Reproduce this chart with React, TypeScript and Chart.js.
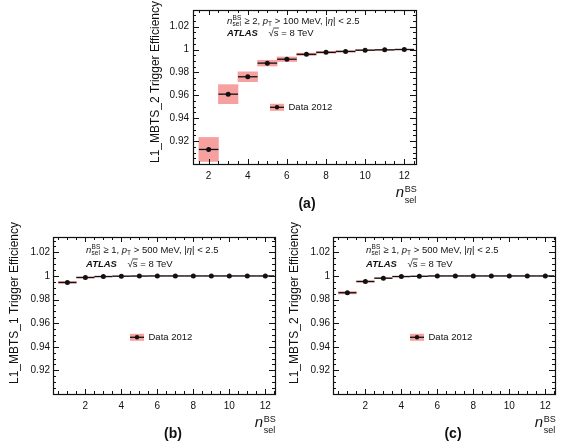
import React, { useEffect, useRef } from 'react';
import { Chart, registerables } from 'chart.js';

Chart.register(...registerables);

const FONT = '"Liberation Sans", Arial, Helvetica, sans-serif';
const BOX_COLOR = '#f6a0a0';
const INK = '#111111';

// Panel (a): L1_MBTS_2, n_sel >= 2, pT > 100 MeV
const binsA = [2, 3, 4, 5, 6, 7, 8, 9, 10, 11, 12];
const effA = [0.9127, 0.961, 0.9762, 0.9881, 0.9915, 0.9958, 0.9975, 0.9983, 0.9994, 0.9997, 1.0];
const errA = [0.0105, 0.0083, 0.0043, 0.0025, 0.002, 0.001, 0.0008, 0.0006, 0.0005, 0.0004, 0.0003];

// Panels (b) and (c): n_sel >= 1, pT > 500 MeV
const binsBC = [1, 2, 3, 4, 5, 6, 7, 8, 9, 10, 11, 12];
const effB = [0.9945, 0.9987, 0.9995, 0.9998, 0.9999, 1.0, 1.0, 1.0, 1.0, 1.0, 1.0, 1.0];
const errB = [0.0008, 0.0005, 0.0003, 0.0002, 0.0002, 0.0002, 0.0002, 0.0002, 0.0002, 0.0002, 0.0002, 0.0002];
const effC = [0.9858, 0.9953, 0.9981, 0.9995, 0.9997, 1.0, 1.0, 1.0, 1.0, 1.0, 1.0, 1.0];
const errC = [0.001, 0.0006, 0.0004, 0.0003, 0.0002, 0.0002, 0.0002, 0.0002, 0.0002, 0.0002, 0.0002, 0.0002];

const yTickValues = [0.92, 0.94, 0.96, 0.98, 1, 1.02];
const xTickValues = [2, 4, 6, 8, 10, 12];
const legendLabel = 'Data 2012';

type PanelSpec = {
  key: string;
  left: number; top: number; width: number; height: number;
  padTop: number; padRight: number;
  yAxisWidth: number; xAxisHeight: number; yLabelPad: number;
  xMin: number; xMax: number; yMin: number; yMax: number;
  bins: number[]; eff: number[]; err: number[];
  trigger: string; cutN: string; cutPt: string; letter: string;
  textX: number; line1Y: number; line2Y: number;
  legendX: number; legendY: number;
  titleX: number; titleY: number;
  letterX: number; letterY: number;
};

const panels: PanelSpec[] = [
  {
    key: 'a', left: 140, top: 0, width: 280, height: 215,
    padTop: 5, padRight: 4, yAxisWidth: 53, xAxisHeight: 51, yLabelPad: 4,
    xMin: 1.2, xMax: 12.6, yMin: 0.9, yMax: 1.0345,
    bins: binsA, eff: effA, err: errA,
    trigger: 'L1_MBTS_2', cutN: '2', cutPt: '100', letter: '(a)',
    textX: 87, line1Y: 23.5, line2Y: 36,
    legendX: 130, legendY: 107.3,
    titleX: 16, titleY: 82,
    letterX: 167, letterY: 208,
  },
  {
    key: 'b', left: 0, top: 220, width: 280, height: 224,
    padTop: 17, padRight: 5, yAxisWidth: 53, xAxisHeight: 50, yLabelPad: 3,
    xMin: 0.2, xMax: 12.54, yMin: 0.9, yMax: 1.033,
    bins: binsBC, eff: effB, err: errB,
    trigger: 'L1_MBTS_1', cutN: '1', cutPt: '500', letter: '(b)',
    textX: 86, line1Y: 32.8, line2Y: 47,
    legendX: 130, legendY: 117.3,
    titleX: 15, titleY: 83,
    letterX: 173, letterY: 218,
  },
  {
    key: 'c', left: 280, top: 220, width: 289, height: 224,
    padTop: 17, padRight: 14, yAxisWidth: 53, xAxisHeight: 50, yLabelPad: 3,
    xMin: 0.2, xMax: 12.54, yMin: 0.9, yMax: 1.033,
    bins: binsBC, eff: effC, err: errC,
    trigger: 'L1_MBTS_2', cutN: '1', cutPt: '500', letter: '(c)',
    textX: 86, line1Y: 32.8, line2Y: 47,
    legendX: 130, legendY: 117.3,
    titleX: 15, titleY: 83,
    letterX: 173, letterY: 218,
  },
];

function put(ctx: CanvasRenderingContext2D, t: string, x: number, y: number, size: number, style = ''): number {
  ctx.font = `${style}${size}px ${FONT}`;
  ctx.fillText(t, x, y);
  return ctx.measureText(t).width;
}

function drawCuts(ctx: CanvasRenderingContext2D, p: PanelSpec) {
  const s = 9.5;
  const sm = 6.5;
  const y = p.line1Y;
  let cx = p.textX;
  ctx.textAlign = 'left';
  ctx.textBaseline = 'alphabetic';
  ctx.fillStyle = INK;
  cx += put(ctx, 'n', cx, y, s, 'italic ');
  const wb = put(ctx, 'BS', cx + 0.3, y - 4, sm);
  const ws = put(ctx, 'sel', cx + 0.3, y + 2.2, sm);
  cx += Math.max(wb, ws) + 0.8;
  cx += put(ctx, ` \u2265 ${p.cutN}, `, cx, y, s);
  cx += put(ctx, 'p', cx, y, s, 'italic ');
  cx += put(ctx, 'T', cx, y + 2.5, sm);
  cx += put(ctx, ` > ${p.cutPt} MeV, |`, cx, y, s);
  cx += put(ctx, '\u03b7', cx, y, s, 'italic ');
  put(ctx, '| < 2.5', cx, y, s);

  // ATLAS label and centre-of-mass energy
  const y2 = p.line2Y;
  put(ctx, 'ATLAS', p.textX, y2, 9.5, 'italic bold ');
  let sx = p.textX + 41.6;
  sx += put(ctx, '\u221a', sx, y2, 9.5);
  const wsq = put(ctx, 's', sx, y2, 9.5);
  ctx.strokeStyle = INK;
  ctx.lineWidth = 0.8;
  ctx.beginPath();
  ctx.moveTo(sx - 0.5, y2 - 8);
  ctx.lineTo(sx + wsq + 0.3, y2 - 8);
  ctx.stroke();
  sx += wsq;
  put(ctx, ' = 8 TeV', sx, y2, 9.5);
}

const atlasFrame = {
  id: 'atlasFrame',
  afterDatasetDraw(chart: any, args: any, opts: any) {
    if (args.index !== 1) return;
    const p: PanelSpec = opts.panel;
    const { ctx, chartArea: a } = chart;
    const xs = chart.scales.x;
    const ys = chart.scales.y;
    ctx.save();
    ctx.beginPath();
    ctx.rect(a.left, a.top, a.right - a.left, a.bottom - a.top);
    ctx.clip();
    ctx.strokeStyle = INK;
    ctx.lineWidth = 1.3;
    p.bins.forEach((b, i) => {
      const y = ys.getPixelForValue(p.eff[i]);
      ctx.beginPath();
      ctx.moveTo(xs.getPixelForValue(b - 0.5), y);
      ctx.lineTo(xs.getPixelForValue(b + 0.5), y);
      ctx.stroke();
    });
    ctx.restore();
  },
  afterDraw(chart: any, _args: any, opts: any) {
    const p: PanelSpec = opts.panel;
    const { ctx, chartArea: a } = chart;
    const xs = chart.scales.x;
    const ys = chart.scales.y;
    ctx.save();

    // frame
    ctx.strokeStyle = INK;
    ctx.lineWidth = 1.2;
    ctx.strokeRect(Math.round(a.left) + 0.5, Math.round(a.top) + 0.5,
      Math.round(a.right - a.left), Math.round(a.bottom - a.top));

    // inward ticks on all four sides
    const major = 5;
    const minor = 3;
    ctx.lineWidth = 1;
    ctx.beginPath();
    for (let v = Math.ceil(p.xMin * 2) / 2; v <= p.xMax + 1e-9; v += 0.5) {
      const isMajor = xTickValues.includes(Math.round(v * 100) / 100);
      const len = isMajor ? major : minor;
      const x = Math.round(xs.getPixelForValue(v)) + 0.5;
      ctx.moveTo(x, a.bottom);
      ctx.lineTo(x, a.bottom - len);
      ctx.moveTo(x, a.top);
      ctx.lineTo(x, a.top + len);
    }
    for (let k = Math.ceil(p.yMin / 0.005); k * 0.005 <= p.yMax + 1e-9; k++) {
      const v = k * 0.005;
      const isMajor = k % 4 === 0;
      const len = isMajor ? major + 1 : minor;
      const y = Math.round(ys.getPixelForValue(v)) + 0.5;
      ctx.moveTo(a.left, y);
      ctx.lineTo(a.left + len, y);
      ctx.moveTo(a.right, y);
      ctx.lineTo(a.right - len, y);
    }
    ctx.stroke();

    // selection text and ATLAS label
    drawCuts(ctx, p);

    // legend entry
    const lx = p.legendX;
    const ly = p.legendY;
    ctx.fillStyle = BOX_COLOR;
    ctx.fillRect(lx, ly - 3.5, 14, 7);
    ctx.strokeStyle = INK;
    ctx.lineWidth = 1.3;
    ctx.beginPath();
    ctx.moveTo(lx, ly);
    ctx.lineTo(lx + 14, ly);
    ctx.stroke();
    ctx.fillStyle = INK;
    ctx.beginPath();
    ctx.arc(lx + 7, ly, 2.2, 0, Math.PI * 2);
    ctx.fill();
    ctx.textBaseline = 'middle';
    ctx.textAlign = 'left';
    put(ctx, legendLabel, lx + 18.5, ly + 0.5, 9.5);

    // y-axis title
    ctx.save();
    ctx.translate(p.titleX, p.titleY);
    ctx.rotate(-Math.PI / 2);
    ctx.textAlign = 'center';
    ctx.textBaseline = 'middle';
    put(ctx, `${p.trigger} Trigger Efficiency`, 0, 0, 12);
    ctx.restore();

    // x-axis title n_sel^BS, right-aligned to the frame
    ctx.textAlign = 'left';
    ctx.textBaseline = 'alphabetic';
    ctx.font = `italic 15px ${FONT}`;
    const wn = ctx.measureText('n').width;
    ctx.font = `9px ${FONT}`;
    const wsup = Math.max(ctx.measureText('BS').width, ctx.measureText('sel').width);
    const right = a.right + 0.7;
    const nx = right - wsup - wn - 0.5;
    put(ctx, 'n', nx, a.bottom + 33, 15, 'italic ');
    put(ctx, 'BS', nx + wn + 0.5, a.bottom + 27.5, 9);
    put(ctx, 'sel', nx + wn + 0.5, a.bottom + 39, 9);

    // panel letter
    ctx.textAlign = 'center';
    put(ctx, p.letter, p.letterX, p.letterY, 14, 'bold ');

    ctx.restore();
  },
};

function Panel({ p }: { p: PanelSpec }) {
  const ref = useRef<HTMLCanvasElement>(null);

  useEffect(() => {
    const canvas = ref.current;
    if (!canvas) return;
    const points = p.bins.map((b, i) => ({ x: b, y: p.eff[i] }));
    const boxes = p.bins.map((b, i) => ({ x: b, y: [p.eff[i] - p.err[i], p.eff[i] + p.err[i]] }));
    const chart = new Chart(canvas, {
      type: 'bar',
      data: {
        datasets: [
          {
            type: 'scatter',
            data: points,
            pointRadius: 2.5,
            pointBackgroundColor: INK,
            pointBorderWidth: 0,
            showLine: false,
          } as any,
          {
            type: 'bar',
            data: boxes as any,
            backgroundColor: BOX_COLOR,
            borderWidth: 0,
            barPercentage: 1,
            categoryPercentage: 1,
          } as any,
        ],
      },
      options: {
        responsive: false,
        animation: false,
        events: [],
        layout: { padding: { left: 0, top: p.padTop, right: p.padRight, bottom: 0 } },
        plugins: {
          legend: { display: false },
          tooltip: { enabled: false },
          atlasFrame: { panel: p },
        } as any,
        scales: {
          x: {
            type: 'linear',
            min: p.xMin,
            max: p.xMax,
            offset: false,
            grid: { display: false, drawTicks: false, tickLength: 0 },
            border: { display: false },
            afterBuildTicks: (s: any) => { s.ticks = xTickValues.map((v) => ({ value: v })); },
            afterFit: (s: any) => { s.height = p.xAxisHeight; },
            ticks: {
              padding: 6,
              maxRotation: 0,
              autoSkip: false,
              color: INK,
              font: { family: FONT, size: 10 },
              callback: (v: any) => String(v),
            },
          },
          y: {
            type: 'linear',
            min: p.yMin,
            max: p.yMax,
            grid: { display: false, drawTicks: false, tickLength: 0 },
            border: { display: false },
            afterBuildTicks: (s: any) => { s.ticks = yTickValues.map((v) => ({ value: v })); },
            afterFit: (s: any) => { s.width = p.yAxisWidth; },
            ticks: {
              padding: p.yLabelPad,
              autoSkip: false,
              color: INK,
              font: { family: FONT, size: 10 },
              callback: (v: any) => String(Number(Number(v).toFixed(2))),
            },
          },
        },
      },
      plugins: [atlasFrame],
    });
    return () => chart.destroy();
  }, [p]);

  return (
    <canvas
      ref={ref}
      width={p.width}
      height={p.height}
      style={{ position: 'absolute', left: p.left, top: p.top, width: p.width, height: p.height, display: 'block' }}
    />
  );
}

export default function App() {
  return (
    <div style={{ position: 'absolute', left: 0, top: 0, width: 569, height: 444, background: '#ffffff' }}>
      {panels.map((p) => (
        <Panel key={p.key} p={p} />
      ))}
    </div>
  );
}
